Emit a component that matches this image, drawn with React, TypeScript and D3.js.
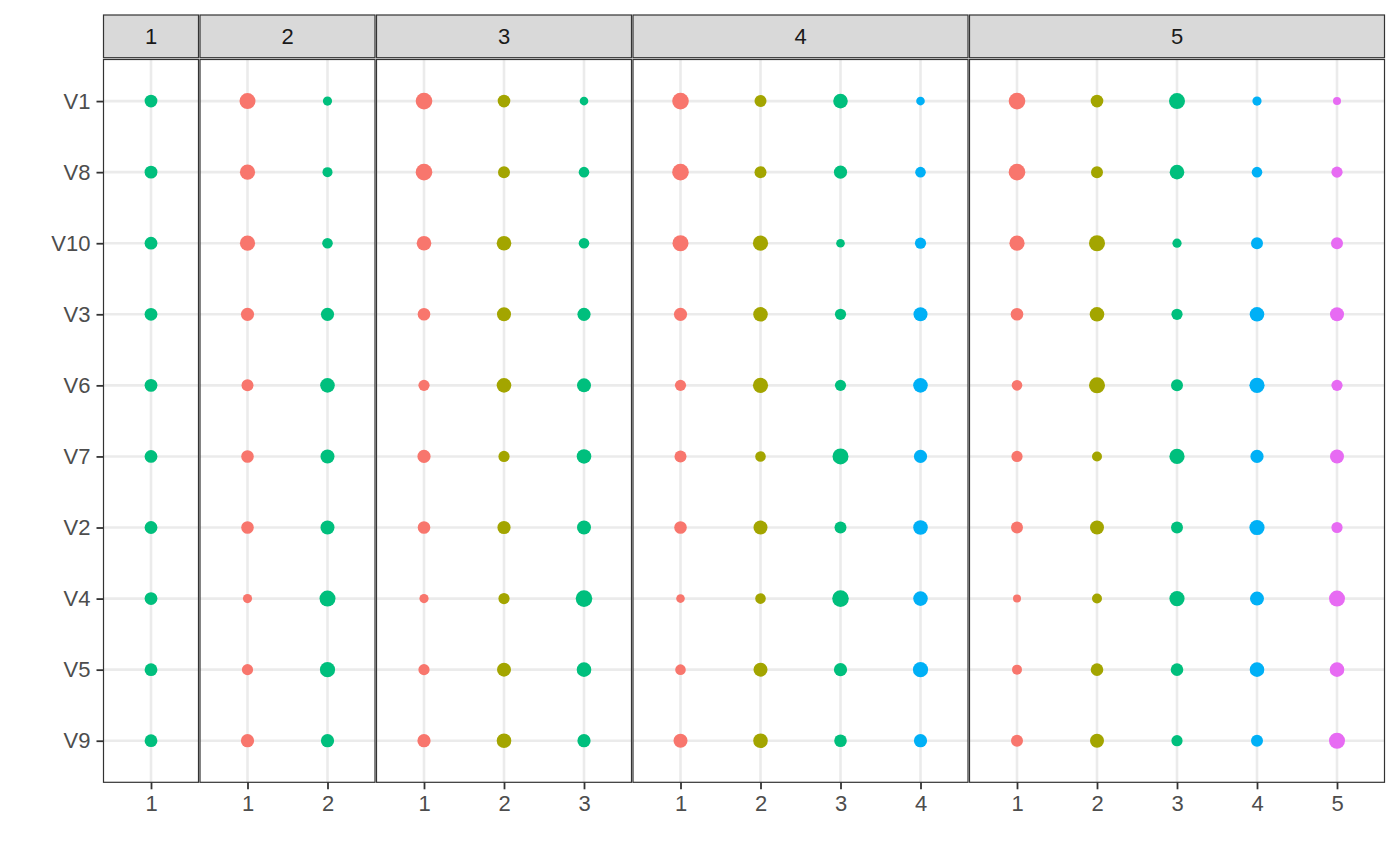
import { useEffect, useRef } from "react";
import * as d3 from "d3";

// rows (top to bottom) and facet labels
const variables = ["V1", "V8", "V10", "V3", "V6", "V7", "V2", "V4", "V5", "V9"];
const facetLabels = ["1", "2", "3", "4", "5"];
const palette = ["#F8766D", "#A3A500", "#00BF7D", "#00B0F6", "#E76BF3"];
const facetColours = [[2], [0, 2], [0, 1, 2], [0, 1, 2, 3], [0, 1, 2, 3, 4]];

// point size per cluster column, values in `variables` order
const sizesK1 = [[6.1, 6.1, 6.1, 6.1, 6.1, 6.1, 6.1, 6.1, 6.1, 6.1]];
const sizesK2 = [
  [7.7, 7.3, 7.3, 6.3, 5.7, 6, 6, 4.3, 5.3, 6.3],
  [4.3, 4.7, 5, 6.3, 7, 6.7, 6.7, 7.7, 7.3, 6.3],
];
const sizesK3 = [
  [8, 8, 7, 6, 5.3, 6.3, 6, 4.3, 5.3, 6.3],
  [6, 5.7, 7, 6.7, 7, 5.3, 6.3, 5.3, 6.7, 7],
  [4, 5, 5, 6.3, 6.7, 7, 6.7, 8, 7, 6.3],
];
const sizesK4 = [
  [8, 8, 7.7, 6.3, 5.3, 5.7, 6, 4, 5, 6.7],
  [5.7, 5.7, 7.3, 7, 7.3, 5, 6.7, 5, 6.7, 7],
  [7, 6.3, 4, 5.3, 5.3, 7.7, 5.7, 8, 6.3, 6],
  [4, 5, 5.3, 6.7, 7, 6.3, 7, 7, 7.3, 6.3],
];
const sizesK5 = [
  [8, 8, 7.3, 6, 5, 5.3, 5.7, 3.7, 4.7, 5.7],
  [6, 5.7, 7.7, 7, 7.7, 4.7, 6.7, 4.7, 6, 6.7],
  [7.7, 7, 4.3, 5.3, 5.7, 7.3, 5.7, 7.3, 6, 5.3],
  [4.3, 5, 5.7, 7, 7.3, 6.3, 7.3, 6.7, 7, 5.7],
  [3.7, 5.3, 5.7, 6.7, 5.3, 6.7, 5.3, 7.7, 7, 7.7],
];
const facetSizes = [sizesK1, sizesK2, sizesK3, sizesK4, sizesK5];

const FONT = "'Liberation Sans', Arial, Helvetica, sans-serif";

export default function App() {
  const ref = useRef<HTMLDivElement>(null);

  useEffect(() => {
    if (!ref.current) return;
    document.body.style.margin = "0";
    const container = ref.current;
    container.innerHTML = "";

    const width = 1400;
    const height = 866;
    const plotLeft = 103.5;
    const plotRight = 1384.5;
    const gap = 1.5;
    const stripTop = 15;
    const stripBottom = 57.7;
    const panelTop = 59.5;
    const panelBottom = 782.3;
    const expand = 0.59375;

    const svg = d3
      .select(container)
      .append("svg")
      .attr("width", width)
      .attr("height", height)
      .style("display", "block")
      .style("font-family", FONT);

    svg.append("rect").attr("width", width).attr("height", height).attr("fill", "white");

    // free x space: each facet is as wide as its number of clusters
    const units = facetSizes.reduce((s, cols) => s + cols.length - 1 + 2 * expand, 0);
    const unit = (plotRight - plotLeft - gap * (facetSizes.length - 1)) / units;

    const y = d3
      .scalePoint<string>()
      .domain(variables)
      .range([panelTop, panelBottom])
      .padding(0.585);

    const r = d3.scaleLinear().domain([0, 10]).range([0.3, 10.3]);

    let left = plotLeft;
    facetSizes.forEach((cols, fi) => {
      const n = cols.length;
      const w = unit * (n - 1 + 2 * expand);
      const cats = d3.range(1, n + 1).map(String);
      const x = d3
        .scalePoint<string>()
        .domain(cats)
        .range([left, left + w])
        .padding(expand);

      const g = svg.append("g");

      // panel background + grid
      g.append("rect")
        .attr("x", left)
        .attr("y", panelTop)
        .attr("width", w)
        .attr("height", panelBottom - panelTop)
        .attr("fill", "white");

      g.selectAll("line.hgrid")
        .data(variables)
        .join("line")
        .attr("x1", left)
        .attr("x2", left + w)
        .attr("y1", (d) => y(d)!)
        .attr("y2", (d) => y(d)!)
        .attr("stroke", "#EBEBEB")
        .attr("stroke-width", 2.6);

      g.selectAll("line.vgrid")
        .data(cats)
        .join("line")
        .attr("x1", (d) => x(d)!)
        .attr("x2", (d) => x(d)!)
        .attr("y1", panelTop)
        .attr("y2", panelBottom)
        .attr("stroke", "#EBEBEB")
        .attr("stroke-width", 2.6);

      // points
      const pts = cols.flatMap((col, ci) =>
        col.map((v, ri) => ({ cluster: cats[ci], variable: variables[ri], value: v, colour: palette[facetColours[fi][ci]] }))
      );
      g.selectAll("circle")
        .data(pts)
        .join("circle")
        .attr("cx", (d) => x(d.cluster)!)
        .attr("cy", (d) => y(d.variable)!)
        .attr("r", (d) => r(d.value))
        .attr("fill", (d) => d.colour);

      // border
      g.append("rect")
        .attr("x", left)
        .attr("y", panelTop)
        .attr("width", w)
        .attr("height", panelBottom - panelTop)
        .attr("fill", "none")
        .attr("stroke", "#333333")
        .attr("stroke-width", 1.2);

      // strip
      g.append("rect")
        .attr("x", left)
        .attr("y", stripTop)
        .attr("width", w)
        .attr("height", stripBottom - stripTop)
        .attr("fill", "#D9D9D9")
        .attr("stroke", "#333333")
        .attr("stroke-width", 1.2);

      g.append("text")
        .attr("x", left + w / 2)
        .attr("y", (stripTop + stripBottom) / 2)
        .attr("dy", "0.35em")
        .attr("text-anchor", "middle")
        .style("font-size", "22px")
        .style("fill", "#1A1A1A")
        .text(facetLabels[fi]);

      // x axis
      const xAxis = g
        .append("g")
        .attr("transform", `translate(0,${panelBottom})`)
        .call(d3.axisBottom(x).tickSize(7).tickPadding(6.5));
      xAxis.select(".domain").remove();
      xAxis.selectAll(".tick line").attr("stroke", "#333333").attr("stroke-width", 1.8);
      xAxis
        .selectAll(".tick text")
        .style("font-size", "22px")
        .style("font-family", FONT)
        .attr("fill", "#4D4D4D");

      left += w + gap;
    });

    // y axis on the first facet
    const yAxis = svg
      .append("g")
      .attr("transform", `translate(${plotLeft},0)`)
      .call(d3.axisLeft(y).tickSize(7).tickPadding(6));
    yAxis.select(".domain").remove();
    yAxis.selectAll(".tick line").attr("stroke", "#333333").attr("stroke-width", 1.8);
    yAxis
      .selectAll(".tick text")
      .style("font-size", "22px")
      .style("font-family", FONT)
      .attr("fill", "#4D4D4D");
  }, []);

  return <div ref={ref} />;
}
